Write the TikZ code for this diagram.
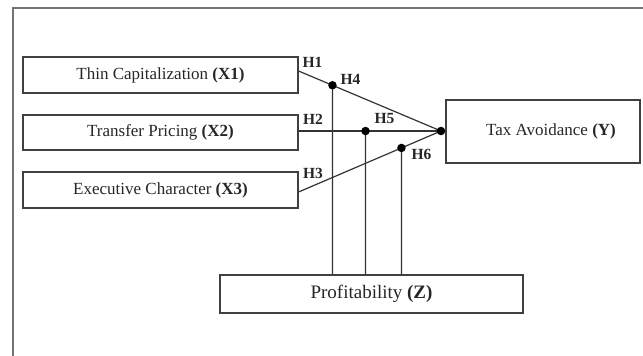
\documentclass[tikz,border=0pt]{standalone}
\usepackage{fontspec}
\setmainfont{Liberation Serif}
\begin{document}
\begin{tikzpicture}[x=1pt,y=-1pt,
  box/.style={draw=black!75, line width=1.1pt, rectangle, inner sep=0pt, text=black!85, font=\fontsize{17}{20}\selectfont},
  hlab/.style={font=\fontsize{15.5}{18}\selectfont\bfseries, text=black!85, inner sep=0pt},
  link/.style={draw=black!80, line width=1.2pt},
  dotc/.style={fill=black, circle, inner sep=0pt, minimum size=8.5pt},
  frame/.style={draw=black!55, line width=2pt}]
\useasboundingbox (0,0) rectangle (643,356);
% frame
\draw[frame] (13,356) -- (13,8) -- (643,8);
% boxes
\node[box, minimum width=275pt, minimum height=36pt] (X1) at (160.5,75) {Thin Capitalization \textbf{(X1)}};
\node[box, minimum width=275pt, minimum height=35pt] (X2) at (160.5,132.5) {Transfer Pricing \textbf{(X2)}};
\node[box, minimum width=275pt, minimum height=36pt] (X3) at (160.5,190) {Executive Character \textbf{(X3)}};
\node[box, minimum width=194pt, minimum height=63pt] (Y) at (543,131.5) {\hspace*{16pt}Tax Avoidance \textbf{(Y)}};
\node[box, minimum width=303pt, minimum height=38pt, font=\fontsize{19}{22}\selectfont] (Z) at (371.5,294) {Profitability \textbf{(Z)}};
% anchor points
\coordinate (c) at (441,131);
\coordinate (a1) at ([yshift=4pt]X1.east);
\coordinate (a2) at ([yshift=1.5pt]X2.east);
\coordinate (a3) at ([yshift=-2pt]X3.east);
\path (Z.north west) ++(113,0) coordinate (b1);
\path (Z.north west) ++(146,0) coordinate (b2);
\path (Z.north west) ++(182,0) coordinate (b3);
\coordinate (t1) at (b1 |- X1.north);
\coordinate (t2) at (b2 |- X1.north);
\coordinate (t3) at (b3 |- X1.north);
\coordinate (d1) at (intersection of a1--c and b1--t1);
\coordinate (d2) at (intersection of a2--c and b2--t2);
\coordinate (d3) at (intersection of a3--c and b3--t3);
% connectors
\draw[link] (a1) -- (c);
\draw[link] (a2) -- (c);
\draw[link] (a3) -- (c);
\draw[link] (b1) -- (d1);
\draw[link] (b2) -- (d2);
\draw[link] (b3) -- (d3);
% dots
\node[dotc] (n0) at (c) {};
\node[dotc] (n1) at (d1) {};
\node[dotc] (n2) at (d2) {};
\node[dotc] (n3) at (d3) {};
% labels
\node[hlab] (h1) at (312.5,62) {H1};
\node[hlab] (h4) at (350.5,79) {H4};
\node[hlab] (h2) at (313,119) {H2};
\node[hlab] (h5) at (384.5,119) {H5};
\node[hlab] (h6) at (421.5,154.5) {H6};
\node[hlab] (h3) at (313,173) {H3};
\end{tikzpicture}
\end{document}
